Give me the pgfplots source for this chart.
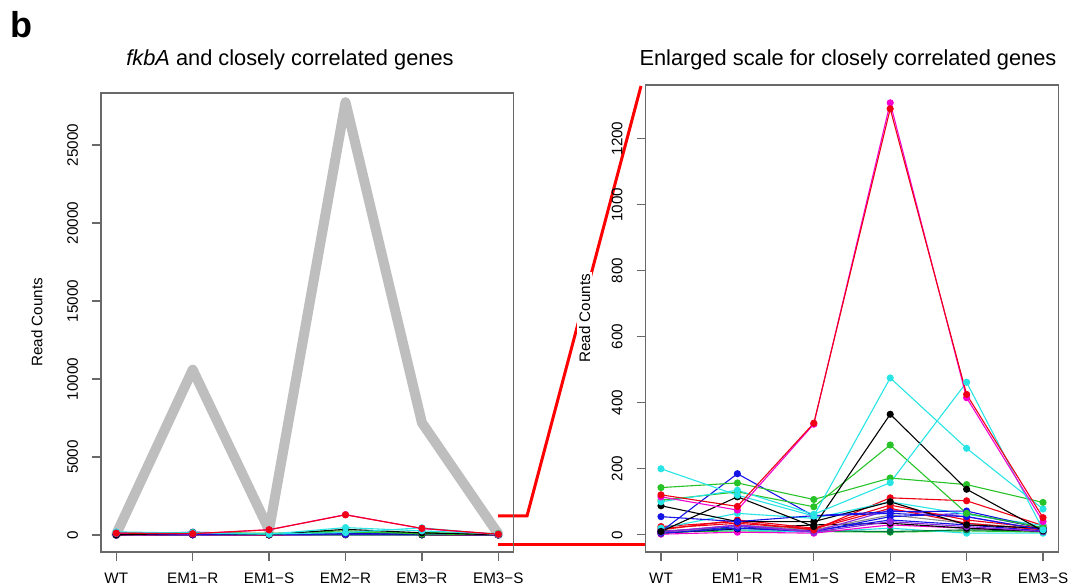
\documentclass[border=0pt]{standalone}
\usepackage{fontspec}
\setmainfont{Liberation Sans}
\usepackage{pgfplots}
\pgfplotsset{compat=1.18}
\usepackage{pgfplotstable}

\definecolor{rred}{RGB}{240,0,20}
\definecolor{rmag}{RGB}{245,0,210}
\definecolor{rcyan}{RGB}{40,228,228}
\definecolor{rgreen}{RGB}{40,195,40}
\definecolor{rblue}{RGB}{20,20,230}
\definecolor{rpurple}{RGB}{140,40,220}
\definecolor{rdkgreen}{RGB}{0,120,60}
\definecolor{rgray}{RGB}{140,140,140}
\definecolor{fkgray}{RGB}{190,190,190}
\definecolor{axgray}{RGB}{105,105,105}

\pgfplotstableread{
x  r1   m1   cA  cB  kB  gA  gB  bA  bB  kA  cD  rB  rC  pu  dg  ml  kC  bC  rD  cE  gC  gr  bD  pB  fk
0  121  115  200 100 10  143 105 10  55  88  20  25  15  8   12  2   5   8   20  10  8   5   5   10  60
1  86   75   120 135 115 157 130 185 40  40  65  40  45  30  20  8   18  25  35  15  12  30  20  28  10600
2  338  335  57  62  25  107 85  57  58  40  50  15  20  10  12  5   30  12  18  8   10  15  10  8   320
3  1290 1308 475 158 365 172 272 65  70  100 100 112 90  75  10  30  35  45  80  20  8   60  55  40  27750
4  425  415  262 462 138 152 65  55  72  30  62  103 45  55  15  20  20  30  35  5   12  35  65  25  7200
5  52   40   78  15  12  98  22  15  20  20  28  28  20  15  12  12  10  12  15  5   8   18  20  10  60
}\data

\newcommand{\ser}[2]{\addplot[color=#2, mark=*, mark size=1.5pt, line width=0.55pt, mark options={solid}] table[x=x,y=#1]{\data};}
\newcommand{\allseries}{%
\ser{gC}{rgreen}\ser{cE}{rcyan}\ser{dg}{rdkgreen}\ser{ml}{rmag}\ser{kC}{black}\ser{bC}{rblue}%
\ser{gr}{rgray}\ser{bD}{rblue}\ser{pB}{rpurple}\ser{pu}{rpurple}\ser{rD}{rred}\ser{rC}{rred}%
\ser{rB}{rred}\ser{cD}{rcyan}\ser{kA}{black}\ser{bB}{rblue}\ser{bA}{rblue}\ser{gB}{rgreen}%
\ser{gA}{rgreen}\ser{kB}{black}\ser{cB}{rcyan}\ser{cA}{rcyan}\ser{m1}{rmag}\ser{r1}{rred}}

\pgfplotsset{rstyle/.style={
  scale only axis, width=206.3pt,
  xmin=-0.2, xmax=5.2, xtick={0,1,2,3,4,5},
  xticklabels={WT,EM1−R,EM1−S,EM2−R,EM3−R,EM3−S},
  tick align=outside, tick pos=left,
  major tick length=4.5pt,
  axis line style={axgray, line width=0.6pt},
  every tick/.style={axgray, line width=0.6pt},
  tick label style={font=\fontsize{7.6}{9}\selectfont, text=black},
  yticklabel style={rotate=90, anchor=south},
  yticklabel shift=3.5pt, xticklabel shift=2.5pt,
  /pgf/number format/assume math mode=true,
  /pgf/number format/1000 sep={},
  scaled y ticks=false,
  ylabel={Read Counts},
}}

\begin{document}
\begin{tikzpicture}
\useasboundingbox (0,0) rectangle (538pt,294pt);
% connector lines
\draw[red, line width=1.5pt] (249pt,36pt) -- (263.5pt,36pt) -- (320.5pt,251pt);
\draw[red, line width=1.5pt] (249pt,21.5pt) -- (322.8pt,21.5pt);

\begin{axis}[rstyle, at={(50.5pt,18pt)}, anchor=south west, height=229.5pt,
  ymin=-1090, ymax=28340, ytick={0,5000,10000,15000,20000,25000},
  every axis y label/.style={at={(axis description cs:-0.155,0.5)}, rotate=90, anchor=center, font=\fontsize{7.6}{9}\selectfont}]
\addplot[color=fkgray, line width=5pt, line join=round, line cap=round, no marks] table[x=x,y=fk]{\data};
\allseries
\end{axis}

\begin{axis}[rstyle, at={(322.85pt,18pt)}, anchor=south west, height=233.5pt,
  ymin=-52, ymax=1362, ytick={0,200,400,600,800,1000,1200},
  every axis y label/.style={at={(axis description cs:-0.148,0.5)}, rotate=90, anchor=center, fill=white, inner sep=1pt, font=\fontsize{7.6}{9}\selectfont}]
\allseries
\end{axis}

\node[font=\fontsize{10.9}{13}\selectfont] at (145pt,264pt) {\textit{fkbA} and closely correlated genes};
\node[font=\fontsize{10.9}{13}\selectfont] at (424pt,264pt) {Enlarged scale for closely correlated genes};
\node[font=\fontsize{18}{20}\selectfont\bfseries] at (10.5pt,281.5pt) {b};
\end{tikzpicture}
\end{document}
